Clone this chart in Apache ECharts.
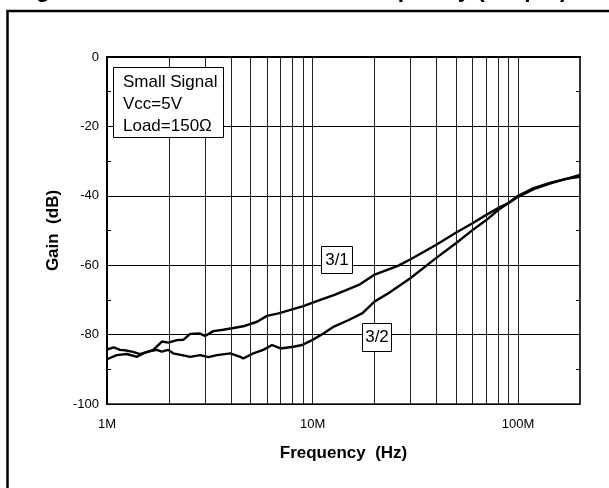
<!DOCTYPE html>
<html>
<head>
<meta charset="utf-8">
<script src="https://cdn.jsdelivr.net/npm/echarts@6/dist/echarts.min.js"></script>
<style>html,body{margin:0;padding:0;background:#fff}#c{width:609px;height:488px}</style>
</head>
<body>
<div id="c"></div>
<script>
// Frequencies in MHz
const freq31 = [1.0, 1.115, 1.25, 1.4, 1.5, 1.68, 1.85, 1.99, 2.19, 2.35, 2.54, 2.84, 3.0, 3.29, 3.68, 4.12, 4.6, 5.37, 6.0, 6.83, 7.81, 9.02, 10.9, 12.7, 16.8, 19.9, 26, 30, 39.8, 50, 60, 70, 80, 90, 100, 119, 144, 175, 200];
const gain31 = [-87.1, -85.9, -85.6, -86.4, -85.4, -84.4, -82, -82.3, -81.6, -81.5, -79.8, -79.7, -80.4, -79, -78.6, -78.1, -77.6, -76.3, -74.6, -73.9, -72.9, -71.8, -70, -68.6, -65.7, -62.8, -60.2, -58.3, -54.2, -50.6, -47.9, -45.5, -43.5, -42.1, -40.3, -38.1, -36.4, -35, -34];
const freq32 = [1.0, 1.08, 1.157, 1.247, 1.339, 1.449, 1.584, 1.747, 1.848, 1.984, 2.097, 2.313, 2.54, 2.842, 3.108, 3.428, 3.98, 4.45, 4.6, 5.15, 5.76, 6.35, 6.98, 8.08, 8.89, 9.95, 11.3, 12.7, 15, 17.5, 20, 23.5, 30, 40, 50, 60, 70, 80, 90, 100, 119, 144, 175, 200];
const gain32 = [-84.3, -83.7, -84.4, -84.6, -85, -85.6, -84.9, -84.4, -84.9, -84.4, -85.4, -85.9, -86.4, -85.9, -86.5, -85.9, -85.4, -86.4, -86.9, -85.4, -84.4, -83, -84, -83.5, -83, -81.6, -79.7, -77.7, -75.8, -73.8, -70.5, -68, -63.7, -57.9, -53.6, -49.9, -47, -44.1, -42, -40, -37.8, -36.2, -35, -34.5];
const gridFreqs = [2, 3, 4, 5, 6, 7, 8, 9, 10, 20, 30, 40, 50, 60, 70, 80, 90, 100];
const yTicks = {min: -100, max: 0, interval: 20};
const titleText = 'Figure 9. Channel Isolation vs. Frequency (Output)';
const xName = 'Frequency  (Hz)';
const yName = 'Gain  (dB)';
const noteLines = ['Small Signal', 'Vcc=5V', 'Load=150Ω'];
const seriesNames = ['3/1', '3/2'];

const FONT = '"Liberation Sans", Arial, sans-serif';
const chart = echarts.init(document.getElementById('c'));
const zip = (xs, ys) => xs.map((x, i) => [x, ys[i]]);

chart.setOption({
  animation: false,
  backgroundColor: '#fff',
  grid: {left: 107, right: 29, top: 57, bottom: 84, show: true, borderColor: '#222', borderWidth: 1.5},
  xAxis: {
    type: 'log', logBase: 10, min: 1, max: 200,
    name: xName, nameLocation: 'middle', nameGap: 41,
    nameTextStyle: {fontFamily: FONT, fontSize: 17, fontWeight: 'bold', color: '#000'},
    axisLine: {show: true, lineStyle: {color: '#000', width: 2}},
    axisTick: {show: false},
    splitLine: {show: false},
    minorTick: {show: false},
    axisLabel: {showMaxLabel: false, margin: 14, fontFamily: FONT, fontSize: 13, color: '#000', formatter: v => v + 'M'}
  },
  yAxis: [{
    type: 'value', min: yTicks.min, max: yTicks.max, interval: yTicks.interval,
    name: yName, nameLocation: 'middle', nameGap: 40,
    nameTextStyle: {fontFamily: FONT, fontSize: 17, fontWeight: 'bold', color: '#000'},
    axisLine: {show: true, lineStyle: {color: '#000', width: 2}},
    axisTick: {show: true, inside: true, length: 4, lineStyle: {color: '#000'}},
    minorTick: {show: true, splitNumber: 2, length: 4, lineStyle: {color: '#000'}},
    splitLine: {show: true, lineStyle: {color: '#000', width: 1}},
    axisLabel: {margin: 8, fontFamily: FONT, fontSize: 13, color: '#000'}
  }, {
    type: 'value', position: 'right', min: yTicks.min, max: yTicks.max, interval: yTicks.interval,
    axisLine: {show: true, lineStyle: {color: '#333', width: 2}},
    axisTick: {show: true, inside: true, length: 4, lineStyle: {color: '#000'}},
    minorTick: {show: true, splitNumber: 2, length: 4, lineStyle: {color: '#000'}},
    splitLine: {show: false},
    axisLabel: {show: false}
  }],
  series: [{
    type: 'line', data: [], silent: true, z: 1,
    markLine: {
      silent: true, symbol: 'none', label: {show: false},
      lineStyle: {color: '#222', width: 1, type: 'solid'},
      data: gridFreqs.map(v => ({xAxis: v}))
    }
  }, {
    name: seriesNames[0], type: 'line', data: zip(freq31, gain31), showSymbol: false, z: 3,
    lineStyle: {color: '#000', width: 2.4}
  }, {
    name: seriesNames[1], type: 'line', data: zip(freq32, gain32), showSymbol: false, z: 3,
    lineStyle: {color: '#000', width: 2.4}
  }],
  graphic: [
    {type: 'rect', shape: {x: 7.5, y: 11, width: 800, height: 700}, style: {fill: 'none', stroke: '#000', lineWidth: 2.5}, z: 10},
    {type: 'text', x: 15.5, y: -9, style: {text: titleText, font: 'bold 23px ' + FONT, fill: '#000', verticalAlign: 'middle'}, z: 10},
    {type: 'rect', shape: {x: 113.5, y: 67.5, width: 110, height: 70}, style: {fill: '#fff', stroke: '#000', lineWidth: 1}, z: 10},
    {type: 'text', x: 123, y: 71, style: {text: noteLines.join('\n'), font: '17px ' + FONT, lineHeight: 22, fill: '#000'}, z: 11},
    {type: 'rect', shape: {x: 321.5, y: 246.5, width: 31, height: 27}, style: {fill: '#fff', stroke: '#000', lineWidth: 1}, z: 10},
    {type: 'text', x: 337, y: 260, style: {text: seriesNames[0], font: '17px ' + FONT, fill: '#000', align: 'center', verticalAlign: 'middle'}, z: 11},
    {type: 'rect', shape: {x: 362.5, y: 323.5, width: 29, height: 28}, style: {fill: '#fff', stroke: '#000', lineWidth: 1}, z: 10},
    {type: 'text', x: 377, y: 337.5, style: {text: seriesNames[1], font: '17px ' + FONT, fill: '#000', align: 'center', verticalAlign: 'middle'}, z: 11}
  ]
});
</script>
</body>
</html>
